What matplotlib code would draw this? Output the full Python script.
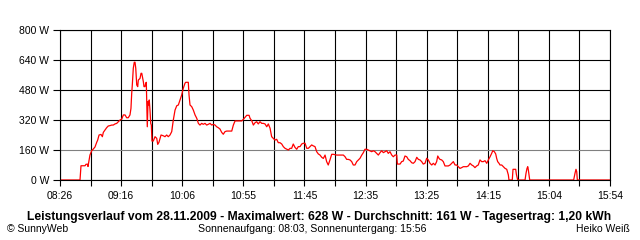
import matplotlib
matplotlib.use("Agg")
import matplotlib.pyplot as plt

plt.rcParams["font.family"] = ["Liberation Sans", "DejaVu Sans"]

# Minuten seit 08:26 und Leistung in W
minutes = [0, 16.3, 17.1, 20.4, 21.2, 22.6, 22.8, 24.4, 25.8, 27.1, 28.5, 29.9, 30.7, 31.8,
           33.4, 34.5, 35.3, 36.7, 38.0, 39.3, 40.7, 42.1, 43.4, 44.8, 46.2, 47.5, 48.9,
           50.3, 51.6, 53.0, 54.3, 55.6, 57.0, 57.8, 58.4, 58.9, 59.7, 60.5, 61.1, 61.7,
           62.5, 63.3, 63.8, 65.2, 66.0, 66.6, 67.4, 67.9, 68.4, 69.2, 69.8, 70.3, 71.1,
           71.7, 72.3, 72.7, 73.3, 73.9, 74.4, 74.9, 76.0, 77.4, 78.8, 79.6, 80.6, 82.3,
           84.1, 85.5, 86.9, 88.2, 89.6, 91.0, 92.3, 93.7, 95.1, 96.4, 97.8, 99.1, 100.4,
           101.8, 102.4, 104.5, 105.1, 105.9, 107.3, 108.6, 110.0, 111.4, 112.7, 114.0,
           115.4, 116.7, 118.1, 119.5, 120.8, 122.2, 123.6, 124.9, 126.3, 127.6, 128.9,
           130.3, 131.7, 133.0, 134.4, 135.8, 138.5, 139.9, 141.2, 142.6, 145.2, 148.0,
           149.3, 150.7, 152.1, 154.0, 154.8, 156.2, 157.5, 158.8, 160.2, 161.5, 162.9,
           164.3, 165.6, 167.0, 168.4, 169.7, 171.1, 172.4, 173.7, 175.1, 176.5, 177.8,
           179.2, 180.6, 181.9, 183.3, 184.7, 186.0, 187.4, 188.7, 190.0, 191.4, 192.8,
           194.1, 195.5, 196.9, 198.2, 199.6, 201.0, 202.3, 203.6, 205.0, 206.3, 207.7,
           209.1, 210.4, 211.8, 213.2, 214.5, 215.9, 217.2, 218.5, 219.9, 221.3, 222.6,
           225.4, 228.1, 230.8, 232.2, 233.5, 234.8, 236.2, 237.6, 238.9, 240.3, 241.7,
           243.0, 244.4, 245.8, 247.1, 248.4, 249.8, 251.1, 252.5, 253.9, 255.2, 256.6,
           258.0, 259.3, 260.7, 262.0, 263.4, 264.7, 266.1, 267.4, 268.8, 270.2, 271.5,
           272.9, 274.3, 274.8, 277.0, 278.3, 279.6, 281.0, 282.4, 283.7, 285.1, 286.5,
           287.8, 289.2, 290.6, 291.9, 293.2, 294.6, 295.9, 297.3, 298.7, 300.0, 301.4,
           302.8, 304.1, 305.5, 306.8, 307.7, 308.7, 309.5, 310.9, 312.2, 313.6, 316.3,
           317.7, 319.1, 320.4, 321.8, 323.1, 324.4, 325.8, 327.2, 328.5, 331.3, 332.6,
           334.0, 335.4, 336.7, 338.0, 339.4, 340.7, 342.1, 343.5, 344.8, 346.2, 347.6,
           348.9, 350.3, 351.6, 352.5, 353.8, 354.9, 355.7, 356.5, 357.6, 358.4, 359.8,
           361.1, 362.5, 363.9, 365.2, 365.7, 368.4, 369.0, 371.2, 371.7, 372.8, 378.8,
           379.6, 380.4, 381.0, 381.5, 382.0, 382.6, 418.4, 419.5, 420.3, 420.9, 421.4,
           448]
watts = [0, 0, 76, 76, 84, 84, 72, 133, 156, 165, 176, 201, 213, 240,
         243, 231, 254, 267, 279, 288, 290, 293, 293, 299, 302, 311, 320,
         325, 347, 347, 332, 332, 347, 382, 462, 507, 596, 628, 628, 596,
         507, 498, 533, 542, 569, 569, 542, 524, 498, 498, 516, 521, 284,
         418, 400, 427, 373, 302, 293, 208, 208, 231, 222, 190, 201, 240,
         236, 231, 240, 231, 240, 258, 320, 373, 396, 400, 427, 453, 489,
         516, 521, 521, 453, 400, 391, 373, 347, 329, 302, 293,
         302, 297, 302, 293, 297, 302, 293, 297, 293, 284, 279,
         272, 254, 244, 258, 261, 261, 261, 293, 315, 315, 315,
         323, 334, 345, 345, 329, 316, 293, 305, 311, 299, 311,
         302, 302, 299, 284, 299, 276, 231, 222, 213, 217, 199,
         199, 192, 178, 169, 164, 160, 169, 169, 192, 174, 164,
         178, 178, 192, 196, 196, 169, 169, 178, 187, 182, 178,
         151, 139, 133, 121, 115, 133, 98, 80, 107, 137, 137,
         133, 133, 133, 124, 110, 110, 107, 98, 80, 80, 98,
         107, 116, 133, 146, 164, 164, 160, 156, 151, 156, 151,
         142, 133, 146, 156, 146, 151, 156, 142, 151, 133, 124,
         133, 133, 85, 85, 98, 101, 128, 124, 110, 103, 92,
         89, 98, 121, 110, 107, 98, 85, 89, 116, 107, 89,
         80, 89, 80, 98, 128, 116, 110, 107, 98, 75, 75,
         80, 89, 98, 80, 80, 71, 62, 66, 71, 71, 75,
         89, 80, 75, 66, 75, 80, 107, 98, 98, 103, 89,
         107, 124, 142, 156, 151, 139, 115, 98, 89, 80, 80,
         71, 62, 57, 27, 0, 0, 57, 57, 32, 0, 0,
         36, 62, 71, 53, 27, 0, 0, 36, 57, 44, 0,
         0]

y_ticks = [0, 160, 320, 480, 640, 800]
x_labels = ["08:26", "09:16", "10:06", "10:55", "11:45", "12:35", "13:25", "14:15", "15:04", "15:54"]
total = 448
step = total / 18

fig = plt.figure(figsize=(6.4, 2.4), dpi=100)
ax = fig.add_axes([60 / 640, 60 / 240, 550 / 640, 150 / 240])

ax.plot(minutes, watts, color="#ff0000", lw=0.9, zorder=2)

ax.set_xlim(0, total)
ax.set_ylim(0, 800)
ax.set_xticks([i * step * 2 for i in range(10)])
ax.set_xticks([(2 * i + 1) * step for i in range(9)], minor=True)
ax.set_xticklabels(x_labels)
ax.set_yticks(y_ticks)
ax.set_yticklabels([f"{v} W" for v in y_ticks])

ax.set_axisbelow(True)
ax.grid(which="both", color="black", lw=0.8)
ax.get_ygridlines()[1].set_color("#808080")

for sp in ax.spines.values():
    sp.set_linewidth(0.8)
    sp.set_color("black")

ax.tick_params(axis="y", which="major", length=5, width=0.8, pad=3, labelsize=7.5)
ax.tick_params(axis="x", which="both", length=4, width=0.8, pad=4, labelsize=7.5)

fig.text(319 / 640, 1 - 217 / 240, "Leistungsverlauf vom 28.11.2009 - Maximalwert: 628 W - Durchschnitt: 161 W - Tagesertrag: 1,20 kWh",
         ha="center", va="center", fontsize=8.75, fontweight="bold")
fig.text(7 / 640, 1 - 229 / 240, "© SunnyWeb", ha="left", va="center", fontsize=7.5)
fig.text(198 / 640, 1 - 229 / 240, "Sonnenaufgang: 08:03, Sonnenuntergang: 15:56", ha="left", va="center", fontsize=7.6)
fig.text(630 / 640, 1 - 229 / 240, "Heiko Weiß", ha="right", va="center", fontsize=7.5)

fig.savefig("out.png", dpi=100, facecolor="white")
